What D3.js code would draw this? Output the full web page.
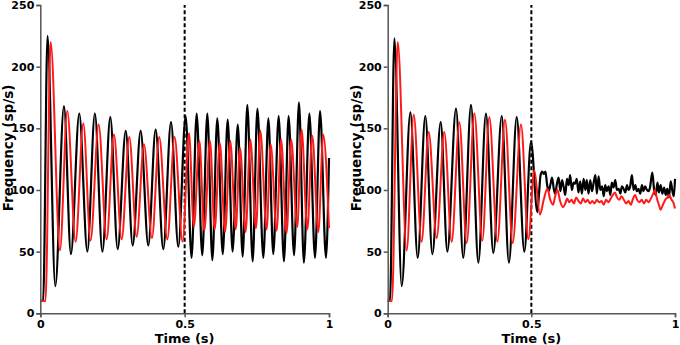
<!DOCTYPE html>
<html><head><meta charset="utf-8">
<script src="https://cdn.jsdelivr.net/npm/d3@7"></script>
<style>
html,body{margin:0;padding:0;background:#fff;}
svg{display:block;}
</style></head>
<body><svg id="c" width="680" height="345"></svg>
<script>
// ---- data: [time (s), frequency (sp/s)] ----
const xTicks = [0, 0.5, 1];
const xTickLabels = ["0", "0.5", "1"];
const yTicks = [0, 50, 100, 150, 200, 250];
const stimTime = 0.5;

const leftBlack = [[0,10],[0.010,10],[0.025,225],[0.052,22],[0.082,168],[0.106,48],[0.135,162],[0.163,50],[0.189,162],[0.215,50],[0.2425,159],[0.268,52],[0.296,148],[0.32,55],[0.3476,148],[0.374,55],[0.3995,149],[0.426,52],[0.4527,155],[0.478,54],[0.5035,160],[0.524,45],[0.5416,162],[0.561,47],[0.5785,162],[0.596,43],[0.613,158],[0.632,48],[0.649,157],[0.666,50],[0.684,153],[0.701,46],[0.717,169],[0.7356,42],[0.752,166],[0.7725,45],[0.790,158],[0.807,48],[0.8256,160],[0.844,42],[0.860,160],[0.879,47],[0.896,171],[0.913,41],[0.932,162],[0.9515,45],[0.969,164],[0.9896,45],[1.0,126]];

const leftRed = [[0,10],[0.018,10],[0.0358,220],[0.068,51],[0.0935,164],[0.1224,58],[0.149,154],[0.174,59],[0.202,153],[0.2298,60],[0.255,145],[0.2818,60],[0.3083,143],[0.3337,62],[0.359,137],[0.3868,61],[0.412,143],[0.44,60],[0.465,143],[0.493,58],[0.515,146],[0.532,70],[0.551,140],[0.568,67],[0.5878,140],[0.604,68],[0.622,138],[0.64,66],[0.658,140],[0.6767,68],[0.6917,134],[0.711,66],[0.7275,141],[0.747,69],[0.762,148],[0.784,68],[0.798,137],[0.8187,67],[0.834,141],[0.853,65],[0.869,141],[0.89,70],[0.905,149],[0.925,68],[0.942,144],[0.963,66],[0.980,145],[1.0,69]];

const rightBlack = [[0,10],[0.008,10],[0.0232,223],[0.0487,22],[0.0789,163],[0.1044,45],[0.131,160],[0.1555,48],[0.1845,155],[0.2077,50],[0.2378,166],[0.263,45],[0.29,169],[0.3155,41],[0.342,162],[0.3677,49],[0.397,160],[0.422,41],[0.449,159],[0.4756,50],[0.4988,139],[0.521,82],
[0.527,98],[0.532,112],[0.538,115],[0.543,113],[0.549,115],[0.555,104],[0.560,99],[0.566,104],[0.572,110],[0.578,101],[0.583,97],[0.589,105],[0.595,110],[0.601,99],[0.607,108],[0.612,103],[0.618,96],[0.624,109],[0.630,104],[0.635,112],[0.641,100],[0.647,106],[0.652,105],[0.658,109],[0.664,98],[0.670,107],[0.676,97],[0.682,109],[0.688,100],[0.693,108],[0.699,97],[0.705,108],[0.711,99],[0.717,106],[0.723,112],[0.728,97],[0.734,111],[0.740,100],[0.746,103],[0.752,95],[0.757,104],[0.763,99],[0.769,103],[0.775,96],[0.780,106],[0.786,102],[0.792,108],[0.798,100],[0.804,101],[0.810,97],[0.815,103],[0.821,101],[0.827,98],[0.833,104],[0.838,100],[0.844,103],[0.850,112],[0.856,100],[0.862,104],[0.867,99],[0.873,101],[0.879,97],[0.885,104],[0.890,99],[0.896,103],[0.902,100],[0.908,99],[0.913,102],[0.921,114],[0.927,101],[0.933,96],[0.939,106],[0.944,98],[0.950,104],[0.956,97],[0.962,102],[0.968,96],[0.973,101],[0.979,94],[0.985,107],[0.991,99],[0.996,95],[1.0,109]];

const rightRed = [[0,10],[0.015,10],[0.0348,220],[0.066,51],[0.0905,161],[0.118,58],[0.1427,147],[0.1705,61],[0.197,147],[0.2227,58],[0.2494,155],[0.275,57],[0.3016,162],[0.3295,59],[0.3538,159],[0.3817,58],[0.4084,157],[0.435,57],[0.464,153],[0.4896,60],[0.5104,116],[0.530,80],
[0.543,92],[0.5557,101],[0.566,92],[0.575,88],[0.583,95],[0.591,100],[0.600,91],[0.610,86],[0.618,89],[0.625,93],[0.632,90],[0.640,92],[0.648,89],[0.656,94],[0.664,91],[0.672,89],[0.680,93],[0.688,90],[0.696,92],[0.704,89],[0.712,91],[0.720,89],[0.728,92],[0.736,90],[0.744,91],[0.752,88],[0.760,92],[0.768,90],[0.776,93],[0.784,96],[0.791,98],[0.798,94],[0.806,92],[0.814,95],[0.822,92],[0.830,89],[0.838,91],[0.846,88],[0.854,93],[0.861,96],[0.868,92],[0.876,90],[0.884,92],[0.892,89],[0.900,92],[0.908,90],[0.916,93],[0.924,97],[0.930,100],[0.937,93],[0.944,88],[0.950,84],[0.958,88],[0.966,92],[0.974,94],[0.980,96],[0.988,92],[0.994,90],[1.0,85]];

const panels = [
  {x0: 40.3, x1: 329, black: leftBlack, red: leftRed},
  {x0: 387.7, x1: 675, black: rightBlack, red: rightRed}
];

const svg = d3.select("#c");
const yTop = 5, yBot = 313.3;
const FONT = "DejaVu Sans, sans-serif";

panels.forEach(p => {
  const x = d3.scaleLinear().domain([0, 1]).range([p.x0, p.x1]);
  const y = d3.scaleLinear().domain([0, 250]).range([yBot, yTop]);
  const g = svg.append("g");

  const line = d3.line().x(d => x(d[0])).y(d => y(d[1])).curve(d3.curveMonotoneX);

  g.append("line")
    .attr("x1", x(stimTime)).attr("x2", x(stimTime))
    .attr("y1", y(0)).attr("y2", y(250))
    .attr("stroke", "#000").attr("stroke-width", 2)
    .attr("stroke-dasharray", "4,2.5");

  g.append("path").datum(p.black).attr("d", line)
    .attr("fill", "none").attr("stroke", "#000").attr("stroke-width", 2.2)
    .attr("stroke-linejoin", "round");
  g.append("path").datum(p.red).attr("d", line)
    .attr("fill", "none").attr("stroke", "#ff1a1a").attr("stroke-width", 2)
    .attr("stroke-linejoin", "round");

  const xAxis = d3.axisBottom(x).tickValues(xTicks)
    .tickFormat((d, i) => xTickLabels[i]).tickSize(4).tickPadding(3);
  const yAxis = d3.axisLeft(y).tickValues(yTicks).tickSize(4).tickPadding(2);

  const gx = g.append("g").attr("transform", `translate(0,${yBot})`).call(xAxis);
  const gy = g.append("g").attr("transform", `translate(${p.x0},0)`).call(yAxis);
  [gx, gy].forEach(a => {
    a.select(".domain").attr("stroke", "#555").attr("stroke-width", 1.5);
    a.selectAll(".tick line").attr("stroke", "#555").attr("stroke-width", 1.5);
    a.selectAll(".tick text").attr("fill", "#000")
      .style("font-family", FONT).style("font-weight", "bold").style("font-size", "11px");
  });

  g.append("text")
    .attr("x", (p.x0 + p.x1) / 2).attr("y", 343)
    .attr("text-anchor", "middle")
    .style("font-family", FONT).style("font-weight", "bold").style("font-size", "13px")
    .text("Time (s)");

  g.append("text")
    .attr("transform", `translate(${p.x0 - 27},148) rotate(-90)`)
    .attr("text-anchor", "middle")
    .style("font-family", FONT).style("font-weight", "bold").style("font-size", "13.5px")
    .text("Frequency (sp/s)");
});
</script></body></html>
